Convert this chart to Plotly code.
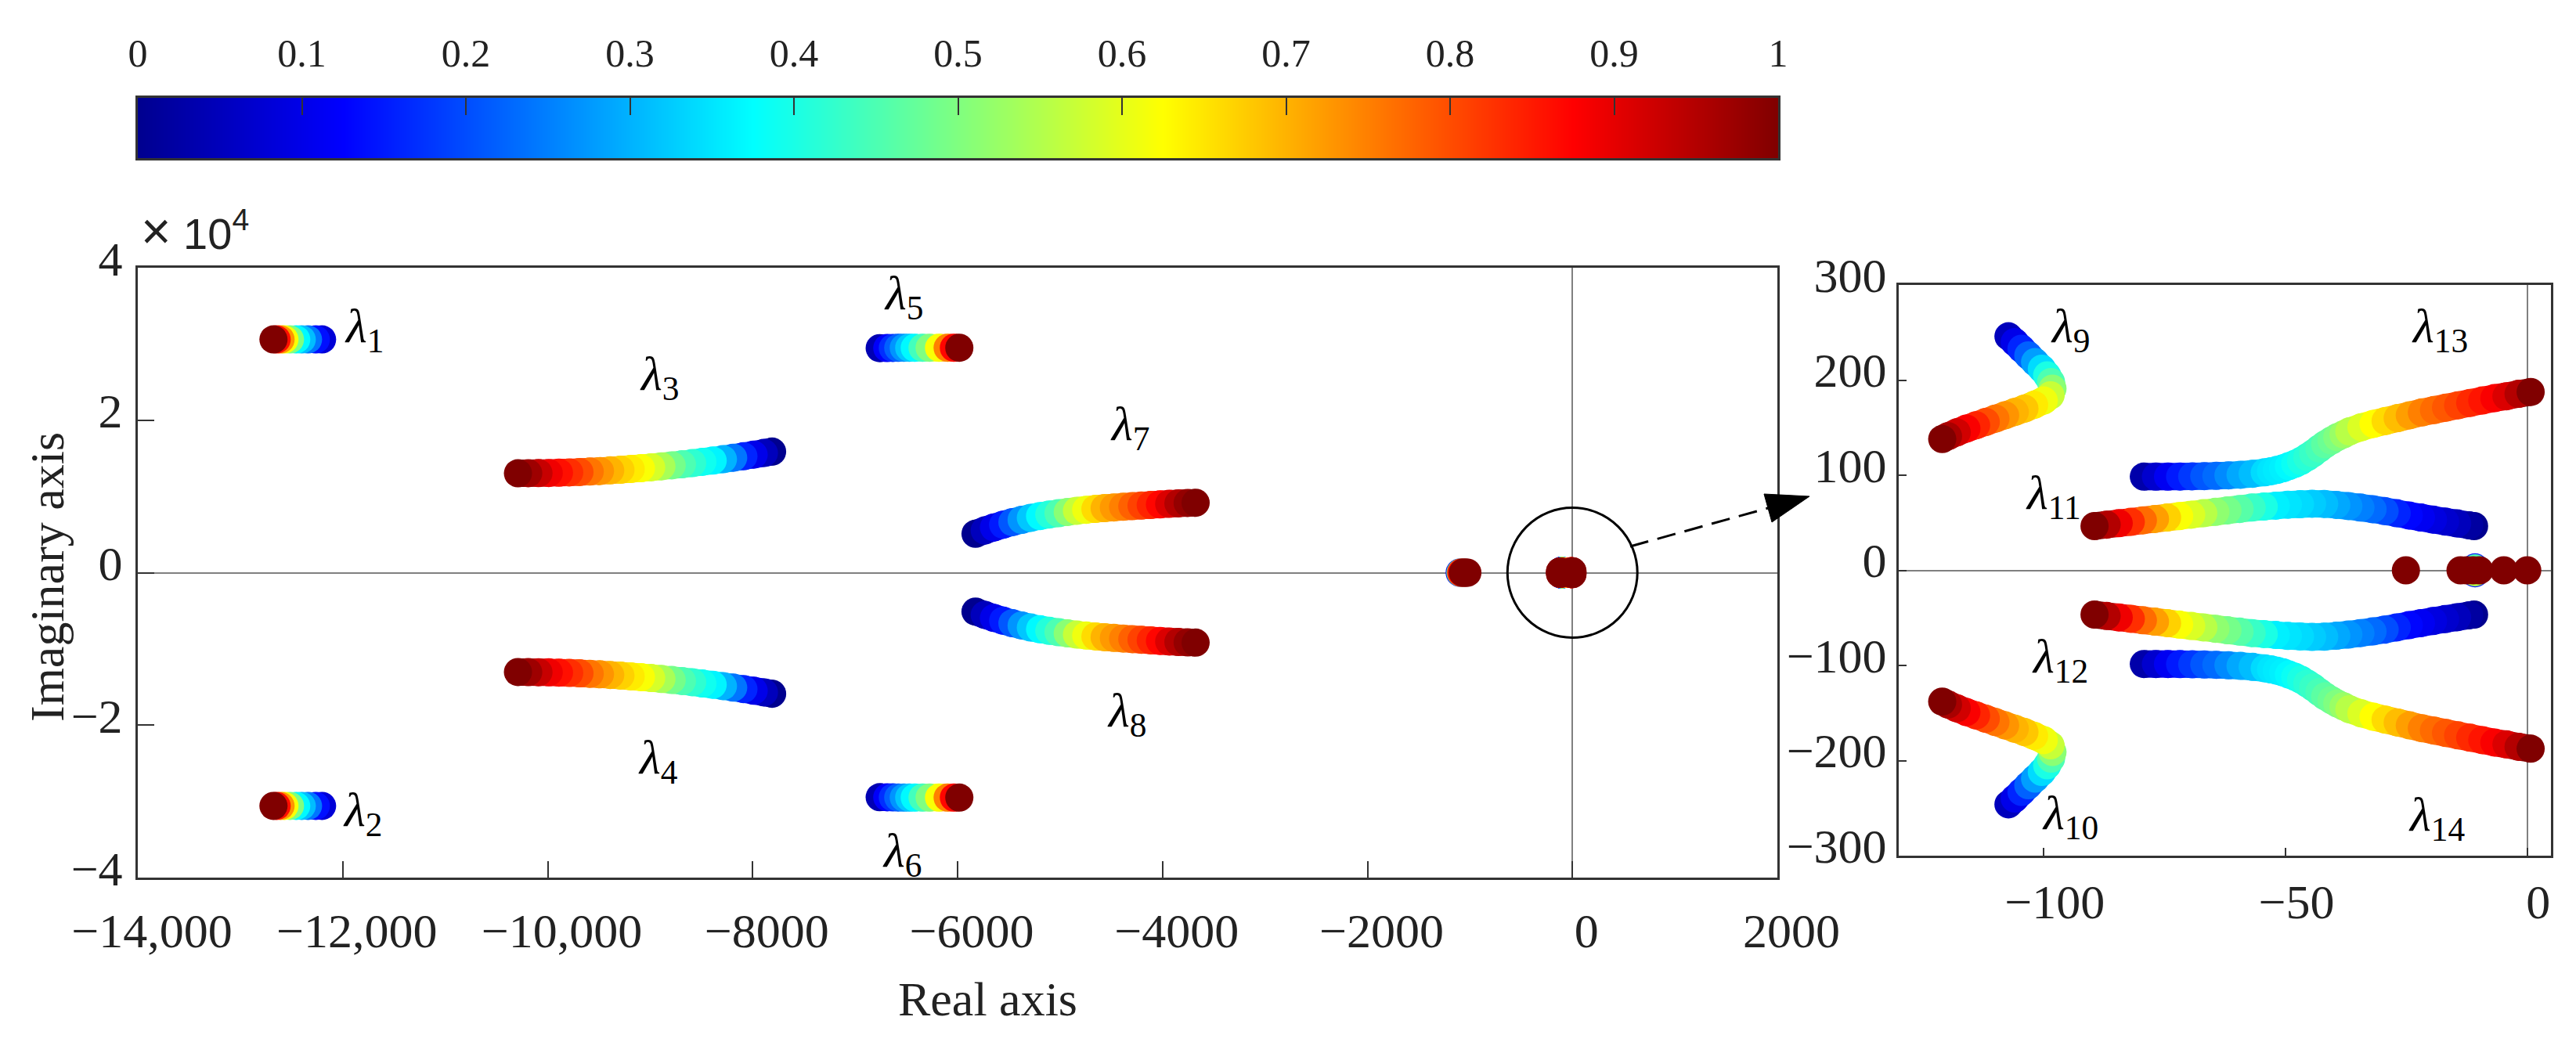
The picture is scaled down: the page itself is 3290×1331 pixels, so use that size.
import plotly.graph_objects as go
from plotly.colors import sample_colorscale

W, H = 3290, 1331

# ---------------- data ----------------
# main panel: real part (x) and imaginary part (y), k = colour parameter (0..1)
lam1_x = [-12202, -12263, -12339, -12400, -12454, -12515, -12569, -12607, -12645, -12676]
lam1_y = [30600, 30600, 30600, 30600, 30600, 30600, 30600, 30600, 30600, 30600]
lam1_k = [0.08, 0.14, 0.24, 0.31, 0.37, 0.50, 0.62, 0.73, 0.86, 1.00]

lam5_x = [-6760, -6686, -6632, -6579, -6525, -6472, -6418, -6342, -6273, -6181, -6097, -6036, -5983]
lam5_y = [29450, 29470, 29480, 29490, 29500, 29500, 29500, 29500, 29500, 29500, 29500, 29500, 29500]
lam5_k = [0.04, 0.12, 0.17, 0.22, 0.27, 0.32, 0.37, 0.44, 0.50, 0.62, 0.75, 0.87, 1.00]

lam3_x = [-7810, -7890, -7990, -8090, -8190, -8290, -8390, -8490, -8590, -8690, -8790, -8890, -8990,
          -9090, -9190, -9290, -9390, -9490, -9590, -9690, -9790, -9890, -9990, -10090, -10190, -10290]
lam3_y = [15880, 15700, 15485, 15275, 15075, 14885, 14705, 14535, 14375, 14220, 14080, 13945, 13820,
          13705, 13600, 13500, 13415, 13335, 13265, 13205, 13155, 13115, 13080, 13060, 13045, 13040]
lam3_k = [0.00, 0.05, 0.10, 0.16, 0.24, 0.30, 0.365, 0.39, 0.42, 0.45, 0.49, 0.54, 0.585,
          0.62, 0.645, 0.67, 0.70, 0.73, 0.76, 0.80, 0.83, 0.86, 0.89, 0.93, 0.97, 1.00]

lam7_x = [-5825, -5735, -5645, -5555, -5465, -5375, -5285, -5195, -5105, -5015, -4925, -4835, -4745,
          -4655, -4565, -4475, -4385, -4295, -4205, -4115, -4025, -3935, -3845, -3755, -3677]
lam7_y = [5100, 5533, 5933, 6299, 6632, 6931, 7196, 7428, 7627, 7805, 7968, 8116, 8248,
          8365, 8467, 8555, 8641, 8724, 8804, 8881, 8956, 9028, 9091, 9142, 9177]
lam7_k = [0.00, 0.05, 0.10, 0.15, 0.21, 0.27, 0.32, 0.37, 0.41, 0.45, 0.51, 0.57, 0.61,
          0.66, 0.70, 0.725, 0.75, 0.78, 0.81, 0.84, 0.87, 0.91, 0.95, 0.98, 1.00]

real_main_x = [-1100, -1092, -1085, -1070, -1055, -1040, -1025]
real_main_y = [0, 0, 0, 0, 0, 0, 0]
real_main_k = [0.10, 0.50, 0.85, 1.00, 1.00, 1.00, 1.00]

# zoomed panel
lam9_x = [-107.3, -106.0, -104.6, -103.2, -101.8, -100.4, -99.3, -98.5, -98.2, -98.6, -100.0,
          -102.0, -104.0, -106.0, -108.0, -110.0, -112.0, -114.0, -116.0, -118.0, -119.8, -121.0]
lam9_y = [246, 240, 233, 226, 219, 212, 205, 198, 191, 184, 178.5,
          174, 170, 166.5, 163, 159.5, 156, 152.5, 149, 145, 141, 138]
lam9_k = [0.05, 0.10, 0.16, 0.22, 0.28, 0.34, 0.40, 0.45, 0.51, 0.57, 0.61,
          0.645, 0.68, 0.70, 0.73, 0.76, 0.80, 0.84, 0.88, 0.92, 0.96, 1.00]

lam11_x = [-11.0, -12.0, -14.5, -17.0, -19.5, -22.0, -24.5, -27.0, -29.5, -32.0, -34.5, -37.0, -39.5,
           -42.0, -44.5, -47.0, -49.5, -52.0, -54.5, -57.0, -59.5, -62.0, -64.5, -67.0, -69.5,
           -72.0, -74.5, -77.0, -79.5, -82.0, -84.5, -87.0, -89.5]
lam11_y = [46.5, 47.3, 49.3, 51.3, 53.3, 55.5, 57.7, 60.0, 62.3, 64.3, 66.0, 67.5, 68.8,
           69.8, 70.0, 69.5, 69.0, 68.0, 67.0, 66.0, 64.5, 63.0, 61.5, 60.0, 58.5,
           57.0, 55.5, 54.0, 52.5, 51.0, 49.5, 48.0, 46.5]
lam11_k = [0.00, 0.02, 0.05, 0.07, 0.09, 0.11, 0.13, 0.16, 0.20, 0.23, 0.25, 0.27, 0.29,
           0.31, 0.325, 0.34, 0.35, 0.36, 0.40, 0.43, 0.46, 0.49, 0.515, 0.555, 0.59,
           0.62, 0.67, 0.72, 0.77, 0.83, 0.89, 0.95, 1.00]

lam13_x = [-79.3, -76.8, -74.3, -71.8, -69.3, -66.8, -64.3, -61.8, -59.3, -56.8, -54.3, -53.0, -51.8,
           -50.5, -49.3, -48.0, -46.8, -45.5, -44.3, -43.0, -41.8, -40.5, -39.3, -38.0, -36.8,
           -34.3, -31.8, -29.3, -26.8, -24.3, -21.8, -19.3, -16.8, -14.3, -11.8, -9.3, -6.8,
           -4.3, -1.8, 0.7]
lam13_y = [98.5, 98.5, 98.5, 98.6, 98.8, 99.0, 99.3, 99.8, 100.5, 101.5, 103.0, 104.2, 105.5,
           107.3, 109.5, 112.0, 115.0, 119.0, 123.0, 128.0, 132.5, 136.5, 140.0, 143.0, 146.0,
           150.5, 154.0, 157.0, 160.0, 163.0, 166.0, 168.5, 171.0, 173.5, 176.0, 178.5, 181.0,
           183.0, 185.5, 187.5]
lam13_k = [0.03, 0.07, 0.11, 0.15, 0.18, 0.21, 0.23, 0.26, 0.29, 0.31, 0.34, 0.35, 0.355,
           0.36, 0.37, 0.385, 0.40, 0.415, 0.43, 0.445, 0.465, 0.48, 0.50, 0.525, 0.555,
           0.59, 0.625, 0.66, 0.69, 0.72, 0.75, 0.77, 0.79, 0.81, 0.835, 0.855, 0.88,
           0.91, 0.95, 1.00]

real_zoom_x = [-10.8, -10.8, -10.8, -10.8, -25.1, -13.8, -12.5, -11.2, -9.9, -4.85, 0.0]
real_zoom_y = [3, -3, 2, -2, 0, 0, 0, 0, 0, 0, 0]
real_zoom_k = [0.15, 0.15, 0.45, 0.55, 1, 1, 1, 1, 1, 1, 1]

main_xticks = [-14000, -12000, -10000, -8000, -6000, -4000, -2000, 0, 2000]
main_xtext = ["\u221214,000", "\u221212,000", "\u221210,000", "\u22128000", "\u22126000",
              "\u22124000", "\u22122000", "0", "2000"]
main_yticks = [-40000, -20000, 0, 20000, 40000]
main_ytext = ["\u22124", "\u22122", "0", "2", "4"]
zoom_xticks = [-100, -50, 0]
zoom_xtext = ["\u2212100", "\u221250", "0"]
zoom_yticks = [-300, -200, -100, 0, 100, 200, 300]
zoom_ytext = ["\u2212300", "\u2212200", "\u2212100", "0", "100", "200", "300"]
cbar_ticks = [0, 0.1, 0.2, 0.3, 0.4, 0.5, 0.6, 0.7, 0.8, 0.9, 1]
cbar_text = ["0", "0.1", "0.2", "0.3", "0.4", "0.5", "0.6", "0.7", "0.8", "0.9", "1"]

# colour map (MATLAB jet) stops, also used to paint the colour bar strip
jet_pos = [0.0, 0.125, 0.375, 0.625, 0.875, 1.0]
jet_rgb = ['rgb(0,0,143)', 'rgb(0,0,255)', 'rgb(0,255,255)', 'rgb(255,255,0)',
           'rgb(255,0,0)', 'rgb(128,0,0)']

# ---------------- styling ----------------
JET = [[p, c] for p, c in zip(jet_pos, jet_rgb)]
SERIF = "Liberation Serif"
MS = 36


def px(x):
    return x / W


def py(y):
    return 1 - y / H


def neg(v):
    return [-a for a in v]


def merged(sets):
    # all eigenvalues are drawn parameter step by parameter step, so the last
    # (k = 1) positions end up on top, as in the original figure
    pts = []
    for x, y, k in sets:
        pts.extend(zip(x, y, k))
    pts.sort(key=lambda p: p[2])
    return [p[0] for p in pts], [p[1] for p in pts], [p[2] for p in pts]


def traj(x, y, k, xa, ya):
    m = dict(size=MS, color=k, colorscale=JET, cmin=0, cmax=1, line=dict(width=0),
             opacity=1, showscale=False)
    return go.Scatter(x=x, y=y, mode='markers', xaxis=xa, yaxis=ya, marker=m,
                      hoverinfo='skip', showlegend=False)


def band(fig, x, y, k, xa, ya):
    # thick segments under the markers so the locus reads as one smooth stroke
    for i in range(len(x) - 1):
        col = sample_colorscale(JET, [k[i + 1]])[0]
        fig.add_trace(go.Scatter(x=[x[i], x[i + 1]], y=[y[i], y[i + 1]], mode='lines',
                                 xaxis=xa, yaxis=ya, line=dict(color=col, width=MS - 1),
                                 hoverinfo='skip', showlegend=False))


zoom_loci = [
    (lam9_x, lam9_y, lam9_k), (lam9_x, neg(lam9_y), lam9_k),
    (lam11_x, lam11_y, lam11_k), (lam11_x, neg(lam11_y), lam11_k),
    (lam13_x, lam13_y, lam13_k), (lam13_x, neg(lam13_y), lam13_k),
]
main_loci = [
    (lam1_x, lam1_y, lam1_k), (lam1_x, neg(lam1_y), lam1_k),
    (lam3_x, lam3_y, lam3_k), (lam3_x, neg(lam3_y), lam3_k),
    (lam5_x, lam5_y, lam5_k), (lam5_x, neg(lam5_y), lam5_k),
    (lam7_x, lam7_y, lam7_k), (lam7_x, neg(lam7_y), lam7_k),
]
zoom_sets = zoom_loci + [(real_zoom_x, real_zoom_y, real_zoom_k)]
main_sets = main_loci + [(real_main_x, real_main_y, real_main_k)] + zoom_sets

fig = go.Figure()
for x, y, k in main_loci:
    band(fig, x, y, k, 'x', 'y')
for x, y, k in zoom_loci:
    band(fig, x, y, k, 'x2', 'y2')
fig.add_trace(traj(*merged(main_sets), 'x', 'y'))
fig.add_trace(traj(*merged(zoom_sets), 'x2', 'y2'))

# colour bar strip: smooth heatmap through the colour-map stops
fig.add_trace(go.Heatmap(x=jet_pos, y=[0], z=[jet_pos], colorscale=JET, zmin=0, zmax=1,
                         zsmooth='best', showscale=False, hoverinfo='skip',
                         xaxis='x3', yaxis='y3'))

axis_common = dict(showgrid=False, showline=True, linecolor='#333', linewidth=3, mirror=True,
                   ticks='inside', tickwidth=2, tickcolor='#333', zeroline=True,
                   zerolinecolor='#808080', zerolinewidth=2,
                   tickfont=dict(family=SERIF, size=62, color='#222'))

fig.update_layout(
    width=W, height=H, margin=dict(l=0, r=0, t=0, b=0, autoexpand=False), autosize=False,
    paper_bgcolor='white', plot_bgcolor='white', showlegend=False,
    xaxis=dict(domain=[px(168), px(2262)], range=[-14000, 2000], anchor='y',
               tickvals=main_xticks, ticktext=main_xtext, ticklen=21,
               ticklabelstandoff=12, ticklabelshift=18, **axis_common),
    yaxis=dict(domain=[py(1113), py(334)], range=[-40000, 40000], anchor='x',
               tickvals=main_yticks, ticktext=main_ytext, ticklen=21,
               ticklabelstandoff=4, ticklabelshift=-12, **axis_common),
    xaxis2=dict(domain=[px(2417), px(3250)], range=[-130, 4.9], anchor='y2',
                tickvals=zoom_xticks, ticktext=zoom_xtext, ticklen=10,
                ticklabelstandoff=3, ticklabelshift=14, **axis_common),
    yaxis2=dict(domain=[py(1085), py(356)], range=[-300, 300], anchor='x2',
                tickvals=zoom_yticks, ticktext=zoom_ytext, ticklen=10,
                ticklabelstandoff=0, ticklabelshift=-13, **axis_common),
    xaxis3=dict(domain=[px(168), px(2263)], range=[0, 1], anchor='y3', side='top',
                tickvals=cbar_ticks, ticktext=cbar_text, ticks='inside', ticklen=22,
                tickwidth=2, tickcolor='#333', showline=True, linecolor='#333', linewidth=3,
                mirror=True, showgrid=False, zeroline=False, ticklabelstandoff=17,
                tickfont=dict(family=SERIF, size=50, color='#222')),
    yaxis3=dict(domain=[py(194), py(117)], range=[-0.5, 0.5], anchor='x3',
                showticklabels=False, ticks='', showline=True, linecolor='#333', linewidth=3,
                mirror=True, showgrid=False, zeroline=False),
)

# circle around the origin and dashed arrow to the zoomed panel
fig.add_shape(type='circle', xref='x', yref='y', x0=-634, x1=634, y0=-8520, y1=8520,
              line=dict(color='black', width=3), layer='above')
fig.add_shape(type='line', xref='paper', yref='paper', x0=px(2074), y0=py(690), x1=px(2250), y1=py(641),
              line=dict(color='black', width=3, dash='24px,12px'))
fig.add_shape(type='path', xref='paper', yref='paper',
              path=f"M {px(2303)} {py(626)} L {px(2255)} {py(659)} L {px(2245)} {py(623)} Z",
              fillcolor='black', line=dict(color='black', width=1))

ann = []
ann.append(dict(text='Real axis', x=px(1253), y=py(1268), xref='paper', yref='paper',
                showarrow=False, font=dict(family=SERIF, size=62, color='#222'),
                xanchor='center', yanchor='middle'))
ann.append(dict(text='Imaginary axis', x=px(52), y=py(729), xref='paper', yref='paper',
                showarrow=False, textangle=-90, font=dict(family=SERIF, size=62, color='#222'),
                xanchor='center', yanchor='middle'))
ann.append(dict(text='<span style="font-size:66px">\u00d7</span>\u00a010<sup>4</sup>',
                x=px(170), y=py(326), xref='paper',
                yref='paper', showarrow=False,
                font=dict(family='Liberation Sans', size=56, color='#222'),
                xanchor='left', yanchor='bottom'))

lam_labels = [("1", 457, 413), ("2", 455, 1030), ("3", 834, 474), ("4", 833, 963),
              ("5", 1146, 370), ("6", 1144, 1082), ("7", 1435, 537), ("8", 1431, 904),
              ("9", 2636, 412), ("10", 2636, 1034), ("11", 2614, 625), ("12", 2623, 834),
              ("13", 3108, 412), ("14", 3104, 1036)]
for sub, lx, ly in lam_labels:
    ann.append(dict(text=f'<i>\u03bb</i><sub>{sub}</sub>', x=px(lx), y=py(ly), xref='paper',
                    yref='paper', showarrow=False, font=dict(family=SERIF, size=62, color='black'),
                    xanchor='center', yanchor='middle'))
fig.update_layout(annotations=ann)

fig.write_html("out.html")
